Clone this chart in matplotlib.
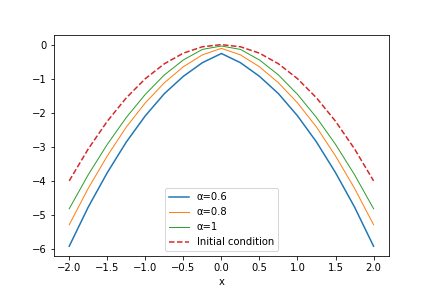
import matplotlib.pyplot as plt

# values (symmetric about x=0)
x = [-2, -1.75, -1.5, -1.25, -1, -0.75, -0.5, -0.25, 0,
     0.25, 0.5, 0.75, 1, 1.25, 1.5, 1.75, 2]

half_06 = [-5.92, -4.77, -3.76, -2.86, -2.09, -1.44, -0.93, -0.53, -0.26]
half_08 = [-5.29, -4.22, -3.27, -2.42, -1.71, -1.12, -0.65, -0.30, -0.11]
half_1 = [-4.82, -3.82, -2.93, -2.14, -1.46, -0.89, -0.45, -0.14, -0.04]
half_init = [-4.0, -3.0625, -2.25, -1.5625, -1.0, -0.5625, -0.25, -0.0625, 0.0]

u_06 = half_06 + half_06[-2::-1]
u_08 = half_08 + half_08[-2::-1]
u_1 = half_1 + half_1[-2::-1]
u_init = half_init + half_init[-2::-1]

plt.figure(figsize=(6, 4), dpi=72)
plt.plot(x, u_06, color='C0', linewidth=1.5, label='α=0.6')
plt.plot(x, u_08, color='C1', linewidth=1, label='α=0.8')
plt.plot(x, u_1, color='C2', linewidth=1, label='α=1')
plt.plot(x, u_init, color='C3', linestyle='--', linewidth=1.5, label='Initial condition')
plt.xlabel('x')
plt.legend(loc='lower center')
plt.savefig('out.png')
